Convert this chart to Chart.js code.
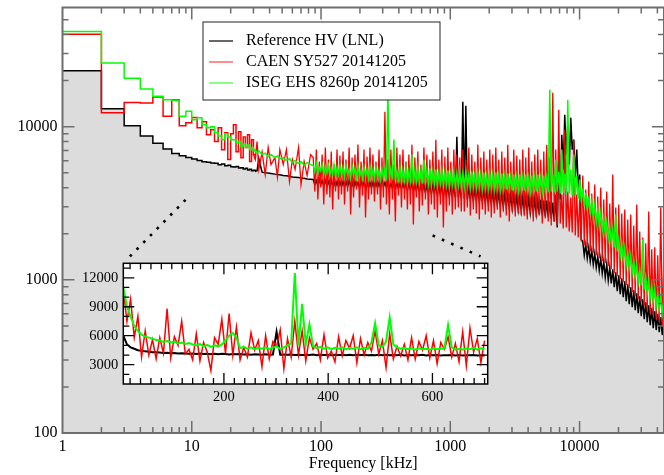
<!DOCTYPE html>
<html>
<head>
  <meta charset="utf-8">
  <title>HV noise spectrum</title>
  <script src="https://cdn.jsdelivr.net/npm/chart.js@4/dist/chart.umd.min.js"></script>
  <style>
    body { margin: 0; background: #fff; }
    #wrap { position: relative; width: 664px; height: 475px; overflow: hidden; }
    #mainChart { position: absolute; left: 0; top: 0; }
    #insetChart { position: absolute; left: 60px; top: 250px; }
  </style>
</head>
<body>
  <div id="wrap">
    <canvas id="mainChart" width="664" height="475"></canvas>
    <canvas id="insetChart" width="440" height="165"></canvas>
  </div>

<script>
// frequency bins of the main spectrum, kHz (1 kHz bins at low f, then sampled)
const freqKHz = [
  1, 2, 3, 4, 5, 6, 7, 8, 9, 10,
  11, 12, 13, 14, 15, 16, 17, 18, 19, 20,
  21, 22, 23, 24, 25, 26, 27, 28, 29, 30,
  31, 32, 33, 35, 37, 39, 41, 44, 46, 48,
  51, 54, 57, 60, 63, 67, 70, 74, 78, 83,
  87, 92, 97, 102, 108, 114, 120, 126, 133, 140,
  148, 156, 165, 174, 183, 193, 204, 215, 227, 239,
  252, 266, 281, 296, 312, 329, 347, 366, 386, 408,
  430, 454, 478, 505, 532, 561, 592, 625, 659, 695,
  733, 773, 816, 860, 908, 957, 1010, 1065, 1124, 1185,
  1250, 1319, 1391, 1467, 1548, 1633, 1722, 1817, 1916, 2021,
  2132, 2249, 2372, 2502, 2640, 2784, 2937, 3098, 3268, 3448,
  3637, 3836, 4047, 4269, 4503, 4750, 5011, 5286, 5576, 5882,
  6205, 6545, 6904, 7283, 7683, 8105, 8549, 9018, 9513, 10035,
  10586, 11167, 11780, 12426, 13108, 13827, 14586, 15386, 16230, 17121,
  18060, 19051, 20097, 21199, 22362, 23589, 24884, 26249, 27690, 29209,
  30812, 32503, 34287, 36168, 38153, 40247, 42455, 44785
];

// in-between readings above 87 kHz (the dips of the noise band)
const freqMid = [
  89.5, 94.5, 99.5, 105, 111, 117, 123, 129.5, 136.5, 144,
  152, 160.5, 169.5, 178.5, 188, 198.5, 209.5, 221, 233, 245.5,
  259, 273.5, 288.5, 304, 320.5, 338, 356.5, 376, 397, 419,
  442, 466, 491, 518, 546, 576, 608, 642, 677, 714,
  753, 794, 838, 884, 932, 983, 1037, 1094, 1154, 1217,
  1284, 1355, 1429, 1507, 1590, 1677, 1769, 1866, 1968, 2076,
  2190, 2310, 2436, 2570, 2711, 2860, 3016, 3182, 3357, 3541,
  3735, 3940, 4157, 4385, 4625, 4879, 5147, 5429, 5727, 6041,
  6373, 6722, 7091, 7480, 7891, 8324, 8780, 9262, 9771, 10307,
  10873, 11469, 12099, 12763, 13463, 14201, 14981, 15803, 16670, 17584,
  18549, 19567, 20641, 21773, 22968, 24228, 25557, 26960, 28440, 30000,
  31646, 33384, 35215, 37147, 39186, 41336, 43604
];

// Reference HV (LNL)
const refHV = [
  23200, 13100, 10150, 8700, 7790, 7150, 6670, 6470, 6300, 6150,
  6010, 5900, 5850, 5800, 5760, 5640, 5700, 5560, 5600, 5480,
  5450, 5500, 5380, 5400, 5300, 5350, 5220, 5280, 5150, 5200,
  5100, 5150, 6200, 5050, 5000, 4980, 4950, 4900, 4870, 4850,
  4800, 4780, 4750, 4700, 4680, 4650, 4620, 4600, 4560, 4540,
  4517, 4450, 4517, 4450, 4450, 4383, 4450, 4383, 4383, 4383,
  4383, 4383, 4450, 4318, 4383, 4318, 4383, 4318, 4318, 4318,
  4318, 4318, 4318, 4869, 4318, 4318, 4254, 4318, 4254, 4254,
  4254, 4254, 4254, 4254, 4191, 4254, 4191, 4191, 4191, 4191,
  4191, 4191, 4191, 4129, 4191, 4129, 4129, 4129, 8605, 4129,
  14553, 13700, 4006, 3947, 3947, 3888, 3888, 3830, 3830, 3773,
  3773, 3717, 3717, 3662, 3662, 3606, 3606, 3552, 3552, 3499,
  3499, 3447, 3447, 3396, 3396, 3346, 3346, 3296, 3296, 3247,
  3199, 3606, 6097, 8869, 11971, 10305, 11446, 8229, 7083, 4869,
  1783, 1704, 1629, 1557, 1489, 1423, 1381, 1321, 1263, 1207,
  1171, 1120, 1071, 1024, 978, 935, 894, 855, 817, 781,
  747, 714, 683, 653, 624, 597, 570, 546
];
const refHVMid = [
  4191, 4129, 4191, 4129, 4129, 4067, 4129, 4067, 4067, 4067,
  4067, 4067, 4129, 4006, 4067, 4006, 4067, 4006, 4006, 4006,
  4006, 4006, 4006, 4067, 4006, 4006, 3947, 4006, 3947, 3947,
  3947, 3888, 3888, 3830, 3830, 3773, 3773, 3717, 3717, 3662,
  3662, 3606, 3606, 3552, 3552, 3499, 3499, 3447, 3447, 3396,
  3396, 3346, 3346, 3296, 3296, 3247, 3247, 3199, 3151, 3151,
  3104, 3104, 3058, 3012, 3012, 2967, 2923, 2923, 2880, 2837,
  2837, 2795, 2753, 2753, 2712, 2672, 2632, 2593, 2554, 2516,
  2406, 2199, 3346, 5248, 6571, 5656, 7083, 4655, 3888, 1837,
  1445, 1381, 1321, 1263, 1207, 1154, 1103, 1039, 993, 949,
  894, 842, 805, 770, 725, 693, 663, 633, 606, 579,
  554, 530, 506, 484, 470, 456, 436
];

// CAEN SY527 20141205
const caen = [
  40200, 12340, 14400, 14270, 15600, 11680, 15000, 10150, 10600, 11500,
  9850, 10780, 8870, 9560, 7990, 9850, 7080, 9140, 6100, 9000,
  10300, 6870, 9270, 6280, 8550, 7300, 8870, 5920, 8230, 6570,
  6100, 7990, 5250, 6830, 4870, 7300, 5660, 6280, 4690, 7080,
  5660, 7080, 4390, 6100, 5250, 7300, 4190, 5920, 4800, 6570,
  6282, 7083, 5917, 6571, 7298, 6097, 6874, 5656, 7083, 6473,
  6874, 6097, 7298, 6282, 6571, 7634, 5917, 7083, 6377, 7298,
  6571, 5917, 7083, 6282, 12524, 6097, 7083, 5656, 7298, 6571,
  7083, 5917, 6571, 7634, 6282, 6874, 5656, 7298, 6571, 6097,
  6874, 8229, 6097, 7083, 6377, 7298, 5917, 7083, 6571, 6282,
  7083, 6097, 7298, 6571, 5917, 7634, 6282, 6874, 6097, 7083,
  6571, 7298, 6097, 6874, 6282, 7634, 5917, 7083, 6473, 6097,
  7083, 6282, 7298, 5917, 6571, 7083, 6097, 6874, 7634, 6282,
  16654, 7083, 12902, 3606, 9560, 3773, 3447, 8229, 3606, 3346,
  4796, 3888, 4383, 3662, 4191, 3499, 4006, 3346, 3773, 3151,
  4869, 2967, 3104, 2712, 2880, 2479, 2672, 2266, 3104, 2071,
  1893, 1730, 2795, 1581, 1629, 1445, 2967, 1361
];
const caenMid = [
  3773, 3346, 4006, 3104, 3606, 3447, 2880, 3773, 3346, 3606,
  3104, 3773, 2672, 3447, 3888, 2967, 3552, 2554, 3346, 3606,
  3247, 3606, 2880, 3447, 3104, 2672, 3346, 2406, 3552, 2967,
  3346, 2880, 3104, 2300, 3447, 2795, 3058, 3346, 2672, 3104,
  2880, 2554, 3104, 2199, 2795, 3058, 2672, 2880, 2967, 2795,
  2795, 2967, 2632, 2880, 2712, 2479, 2880, 2672, 2795, 2554,
  2712, 2880, 2554, 2795, 2632, 2406, 2795, 2593, 2712, 2632,
  2632, 2479, 2712, 2406, 2554, 2632, 2334, 2516, 2406, 2266,
  2406, 2266, 2334, 2166, 2199, 2071, 2040, 1950, 1893, 1783,
  1679, 1605, 1534, 1489, 1445, 1381, 1321, 1282, 1226, 1171,
  1103, 1055, 1008, 964, 921, 881, 830, 781, 747, 714,
  673, 633, 606, 579, 554, 530, 506
];

// ISEG EHS 8260p 20141205
const iseg = [
  41800, 26000, 20700, 17600, 15800, 15000, 14900, 11700, 12600, 11100,
  11450, 10300, 9850, 10000, 9140, 8700, 8230, 9000, 8550, 8230,
  8230, 7850, 7990, 7460, 7700, 7300, 7630, 7080, 7300, 6960,
  7080, 6720, 6960, 6570, 6720, 6370, 6570, 6280, 6440, 6200,
  6280, 6010, 6190, 5830, 6010, 5750, 5920, 5580, 5830, 5660,
  5572, 5742, 5407, 5656, 5489, 5572, 5327, 5656, 5407, 5572,
  5407, 5572, 5248, 5489, 5327, 5572, 5170, 5407, 5248, 5489,
  5248, 5407, 5170, 5327, 5248, 17411, 5327, 8229, 5170, 5407,
  5170, 5327, 5093, 6571, 5170, 5407, 5093, 6097, 5170, 5327,
  5093, 5248, 5017, 5170, 5017, 5170, 4942, 5093, 4942, 5093,
  4942, 5093, 4869, 5093, 4869, 5017, 4869, 5017, 4796, 4942,
  4869, 5017, 4796, 4942, 4796, 4942, 4725, 4869, 4725, 4869,
  4725, 4869, 4655, 4796, 4725, 4869, 4655, 4796, 4655, 17411,
  4869, 6097, 5093, 7083, 4942, 14988, 5248, 6571, 4796, 4517,
  3947, 3717, 3499, 3247, 3058, 2880, 2712, 2516, 2370, 2232,
  2102, 2672, 1837, 1730, 1605, 1511, 1423, 1341, 1244, 1171,
  1837, 1039, 978, 921, 868, 817, 770, 725
];
const isegMid = [
  5093, 4942, 5170, 4869, 5017, 4796, 4942, 4725, 4869, 4796,
  4725, 4869, 4655, 4796, 4655, 4725, 4585, 4725, 4585, 4655,
  4585, 4655, 4517, 4585, 4450, 4585, 4517, 4450, 4517, 4383,
  4450, 4318, 4450, 4254, 4383, 4318, 4254, 4383, 4254, 4191,
  4254, 4129, 4254, 4129, 4191, 4067, 4191, 4067, 4129, 4067,
  4067, 4129, 4006, 4067, 4006, 4067, 3947, 4006, 3947, 4006,
  3947, 4006, 3888, 3947, 3888, 3947, 3830, 3888, 3830, 3888,
  3830, 3888, 3773, 3830, 3773, 3830, 3773, 3830, 3717, 3773,
  3717, 3773, 3662, 3717, 3606, 3662, 3552, 3499, 3396, 3199,
  3012, 2837, 2672, 2516, 2370, 2232, 2102, 1980, 1865, 1756,
  1629, 1534, 1445, 1361, 1263, 1189, 1120, 1055, 978, 921,
  868, 817, 770, 725, 683, 643, 606
];

// inset: linear zoom on 7-700 kHz
const insetFreq = [
  7, 14, 21, 28, 35, 42, 49, 56, 63, 70,
  77, 84, 91, 98, 105, 112, 119, 126, 133, 140,
  147, 154, 161, 168, 175, 182, 189, 196, 203, 210,
  217, 224, 231, 238, 245, 252, 259, 266, 273, 280,
  287, 294, 301, 308, 315, 322, 329, 336, 343, 350,
  357, 364, 371, 378, 385, 392, 399, 406, 413, 420,
  427, 434, 441, 448, 455, 462, 469, 476, 483, 490,
  497, 504, 511, 518, 525, 532, 539, 546, 553, 560,
  567, 574, 581, 588, 595, 602, 609, 616, 623, 630,
  637, 644, 651, 658, 665, 672, 679, 686, 693, 700
];

const insetRef = [
  6000, 5100, 4800, 4650, 4500, 4450, 4380, 4350, 4300, 4280,
  4250, 4200, 4230, 4180, 4210, 4150, 4190, 4160, 4140, 4170,
  4120, 4150, 4100, 4140, 4090, 4130, 4080, 4120, 4100, 4060,
  4110, 4070, 4100, 4050, 4090, 4040, 4080, 4060, 4030, 4070,
  4040, 4060, 6400, 4030, 4060, 4020, 4050, 4000, 4040, 4010,
  4030, 4000, 4050, 3990, 4030, 4010, 4040, 3980, 4020, 4000,
  4030, 3990, 4040, 3980, 4020, 4000, 4030, 3970, 4010, 3990,
  4020, 3980, 4030, 3970, 4010, 3990, 4020, 3960, 4000, 3980,
  4010, 3970, 4020, 3960, 4000, 3980, 4010, 3950, 3990, 3970,
  4000, 3960, 4010, 3950, 3990, 3970, 4000, 3940, 3980, 3960
];

const insetCaen = [
  10800, 7500, 9800, 5800, 8000, 3800, 6500, 4000, 5600, 3600,
  5800, 4200, 8800, 3700, 5900, 5000, 7500, 4100, 4600, 3500,
  6200, 3400, 5300, 4300, 2400, 5800, 5100, 7700, 4200, 8300,
  4000, 6900, 3500, 4800, 3800, 6300, 4500, 5500, 2800, 6000,
  3600, 5400, 4900, 6600, 2600, 5700, 3800, 7500, 4000, 6500,
  3400, 5800, 4600, 5200, 3500, 6100, 3700, 4400, 3300, 5900,
  3900, 5500, 4700, 6000, 3200, 5700, 4000, 5300, 4400, 6500,
  4100, 5500, 2700, 6200, 3600, 4900, 3900, 5100, 3500, 5800,
  3600, 5400, 4500, 6000, 3700, 5500, 3100, 5300, 4600, 5900,
  3800, 5200, 3300, 6400, 2900, 6800, 4300, 5700, 3200, 5500
];

const insetIseg = [
  11000, 9000, 8000, 7000, 6500, 6100, 5900, 5800, 5700, 5550,
  5500, 5350, 5450, 5300, 5400, 5200, 5300, 5150, 5250, 5100,
  5000, 5150, 4900, 5050, 4850, 5000, 4900, 5100, 5500, 6000,
  6300, 5800, 4700, 4850, 4650, 4800, 4600, 4750, 4650, 4800,
  4600, 4750, 4900, 4650, 4800, 5000, 5200, 12500, 5000, 9300,
  5100, 7200, 4900, 4700, 4850, 4650, 4800, 4600, 4750, 4650,
  4800, 4600, 4750, 4650, 4800, 4600, 4750, 4650, 5300, 7300,
  5000, 4800, 5400, 7900, 5100, 4800, 4650, 4750, 4600, 4700,
  4550, 4700, 4600, 4650, 4550, 4700, 4600, 4650, 4700, 7100,
  4800, 4550, 4650, 4550, 4700, 4600, 4750, 4550, 4700, 4600
];

// dotted guide lines from the main spectrum to the inset corners
const guideLeftF = [3.32, 9.33];
const guideLeftV = [1422, 3448];
const guideRightF = [730, 1714];
const guideRightV = [1950, 1422];

const legendLabels = ['Reference HV (LNL)', 'CAEN SY527 20141205', 'ISEG EHS 8260p 20141205'];

const xTickValues = [1, 10, 100, 1000, 10000];
const yTickValues = [100, 1000, 10000];
const insetXTickValues = [200, 400, 600];
const insetYTickValues = [3000, 6000, 9000, 12000];

// below 31 kHz the 1 kHz bins are drawn as steps, above it as a plain trace
const STEP_END = 31;

const serif = '"Liberation Serif", "DejaVu Serif", serif';

function toPoints(xs, ys) {
  return xs.map((x, i) => ({ x: x, y: ys[i] }));
}

// one series = stepped low-frequency part + dense trace (overlapping one bin so the fill has no seam)
function seriesParts(values, midValues, color, order, width, extra) {
  const pts = toPoints(freqKHz, values);
  const dense = pts.slice(STEP_END - 2)
    .concat(toPoints(freqMid, midValues))
    .sort((a, b) => a.x - b.x);
  return [
    Object.assign({ data: pts.slice(0, STEP_END), borderColor: color, stepped: true, order: order }, extra),
    Object.assign({ data: dense, borderColor: color, borderWidth: width, order: order }, extra)
  ];
}

// minor tick positions for the axes
function logMinors(from, to) {
  const out = [];
  for (let d = from; d < to; d *= 10) {
    for (let m = 2; m <= 9; m++) if (d * m < to) out.push(d * m);
  }
  return out;
}
function linMinors(from, to, step, skip) {
  const out = [];
  for (let v = from; v <= to; v += step) if (v % skip !== 0) out.push(v);
  return out;
}

// frame + inward ticks on all four sides, drawn above the data
const frameTicks = {
  id: 'frameTicks',
  beforeDatasetsDraw(chart, args, opts) {
    if (!opts.areaFill) return;
    const a = chart.chartArea, ctx = chart.ctx;
    ctx.save();
    ctx.fillStyle = opts.areaFill;
    ctx.fillRect(a.left, a.top, a.right - a.left, a.bottom - a.top);
    ctx.restore();
  },
  afterDatasetsDraw(chart, args, opts) {
    const a = chart.chartArea, ctx = chart.ctx;
    const x = chart.scales.x, y = chart.scales.y;
    ctx.save();
    ctx.strokeStyle = opts.color;
    ctx.lineWidth = opts.tickWidth;
    ctx.beginPath();
    const vt = (v, len) => {
      const px = x.getPixelForValue(v);
      if (px < a.left + 1 || px > a.right - 1) return;
      ctx.moveTo(px, a.bottom); ctx.lineTo(px, a.bottom - len);
      ctx.moveTo(px, a.top); ctx.lineTo(px, a.top + len);
    };
    const ht = (v, len) => {
      const py = y.getPixelForValue(v);
      if (py < a.top + 1 || py > a.bottom - 1) return;
      ctx.moveTo(a.left, py); ctx.lineTo(a.left + len, py);
      ctx.moveTo(a.right, py); ctx.lineTo(a.right - len, py);
    };
    opts.xMajor.forEach(v => vt(v, opts.majorLen));
    opts.xMinor.forEach(v => vt(v, opts.minorLen));
    opts.yMajor.forEach(v => ht(v, opts.majorLen));
    opts.yMinor.forEach(v => ht(v, opts.minorLen));
    ctx.stroke();
    ctx.lineWidth = opts.frameWidth;
    ctx.strokeRect(a.left, a.top, a.right - a.left, a.bottom - a.top);
    ctx.restore();
  }
};

// boxed legend inside the plot
const legendBox = {
  id: 'legendBox',
  afterDatasetsDraw(chart, args, opts) {
    const ctx = chart.ctx;
    ctx.save();
    ctx.fillStyle = '#fff';
    ctx.fillRect(opts.x, opts.y, opts.w, opts.h);
    ctx.strokeStyle = '#222';
    ctx.lineWidth = 1;
    ctx.strokeRect(opts.x, opts.y, opts.w, opts.h);
    ctx.font = '16px ' + serif;
    ctx.textBaseline = 'middle';
    legendLabels.forEach((label, i) => {
      const ly = opts.rows[i];
      ctx.strokeStyle = opts.colors[i];
      ctx.lineWidth = 1.2;
      ctx.beginPath();
      ctx.moveTo(opts.x + 6, ly);
      ctx.lineTo(opts.x + 30, ly);
      ctx.stroke();
      ctx.fillStyle = '#000';
      ctx.fillText(label, opts.x + 43, ly);
    });
    ctx.restore();
  }
};

// keep the plot box where it is, whatever the label sizes ask for
function noEdgePadding(s) {
  s.paddingTop = 0; s.paddingBottom = 0; s.paddingLeft = 0; s.paddingRight = 0;
}

const tickFont = { family: serif, size: 16 };

const mainChart = new Chart(document.getElementById('mainChart'), {
  type: 'line',
  data: {
    datasets: [
      { data: toPoints(guideLeftF, guideLeftV), borderColor: '#000', borderWidth: 2.6,
        borderDash: [2.6, 7], borderCapStyle: 'butt', order: 0 },
      { data: toPoints(guideRightF, guideRightV), borderColor: '#000', borderWidth: 2.6,
        borderDash: [2.6, 7.5], borderCapStyle: 'butt', order: 0 },
      ...seriesParts(iseg, isegMid, '#00ff00', 1, 1.5, {}),
      ...seriesParts(caen, caenMid, '#ff0000', 2, 1.3, {}),
      ...seriesParts(refHV, refHVMid, '#000', 3, 1.5, { fill: 'start', backgroundColor: '#dcdcdc' })
    ]
  },
  options: {
    responsive: false,
    animation: false,
    layout: { padding: { top: 7.5, right: 0, left: 0, bottom: 0 } },
    elements: { point: { radius: 0 }, line: { borderWidth: 1.5, tension: 0 } },
    plugins: {
      legend: { display: false },
      tooltip: { enabled: false },
      frameTicks: {
        color: '#6e6e6e', frameWidth: 2, tickWidth: 1.5, majorLen: 12, minorLen: 6,
        xMajor: xTickValues, xMinor: logMinors(1, 45000),
        yMajor: yTickValues, yMinor: logMinors(100, 60000)
      },
      legendBox: {
        x: 203, y: 22, w: 237, h: 78, rows: [41, 62, 83],
        colors: ['#000', '#ff4040', '#33ff33']
      }
    },
    scales: {
      x: {
        type: 'logarithmic', min: 1, max: 45000,
        grid: { display: false, drawTicks: false }, border: { display: false },
        afterBuildTicks: s => { s.ticks = xTickValues.map(v => ({ value: v })); },
        afterFit: s => { s.height = 42; noEdgePadding(s); },
        ticks: { callback: v => String(v), font: tickFont, color: '#000', padding: 4,
                 maxRotation: 0, autoSkip: false },
        title: { display: true, text: 'Frequency [kHz]', font: tickFont, color: '#000',
                 padding: { top: 0, bottom: 2 } }
      },
      y: {
        type: 'logarithmic', min: 100, max: 60000,
        grid: { display: false, drawTicks: false }, border: { display: false },
        afterBuildTicks: s => { s.ticks = yTickValues.map(v => ({ value: v })); },
        afterFit: s => { s.width = 62.5; noEdgePadding(s); },
        ticks: { callback: v => String(v), font: tickFont, color: '#000', padding: 5,
                 autoSkip: false }
      }
    }
  },
  plugins: [frameTicks, legendBox]
});

const insetFont = { family: serif, size: 14.5 };

const insetChart = new Chart(document.getElementById('insetChart'), {
  type: 'line',
  data: {
    datasets: [
      { data: toPoints(insetFreq, insetIseg), borderColor: '#00ff00', borderWidth: 2, order: 1 },
      { data: toPoints(insetFreq, insetCaen), borderColor: '#ff0000', borderWidth: 1.5, order: 2 },
      { data: toPoints(insetFreq, insetRef), borderColor: '#000', borderWidth: 2, order: 3 }
    ]
  },
  options: {
    responsive: false,
    animation: false,
    layout: { padding: { top: 13.3, right: 12.3, left: 0, bottom: 0 } },
    elements: { point: { radius: 0 }, line: { tension: 0 } },
    plugins: {
      legend: { display: false },
      tooltip: { enabled: false },
      frameTicks: {
        areaFill: '#fff', color: '#000', frameWidth: 1.5, tickWidth: 1.3, majorLen: 11, minorLen: 6,
        xMajor: insetXTickValues, xMinor: linMinors(20, 700, 20, 200),
        yMajor: insetYTickValues, yMinor: linMinors(2000, 13000, 1000, 3000)
      }
    },
    scales: {
      x: {
        type: 'linear', min: 7, max: 706,
        grid: { display: false, drawTicks: false }, border: { display: false },
        afterBuildTicks: s => { s.ticks = insetXTickValues.map(v => ({ value: v })); },
        afterFit: s => { s.height = 31; noEdgePadding(s); },
        ticks: { font: insetFont, color: '#000', padding: 4, maxRotation: 0, autoSkip: false }
      },
      y: {
        type: 'linear', min: 1000, max: 13500,
        grid: { display: false, drawTicks: false }, border: { display: false },
        afterBuildTicks: s => { s.ticks = insetYTickValues.map(v => ({ value: v })); },
        afterFit: s => { s.width = 63.3; noEdgePadding(s); },
        ticks: { callback: v => String(v), font: insetFont, color: '#000', padding: 5,
                 autoSkip: false }
      }
    }
  },
  plugins: [frameTicks]
});
</script>
</body>
</html>
